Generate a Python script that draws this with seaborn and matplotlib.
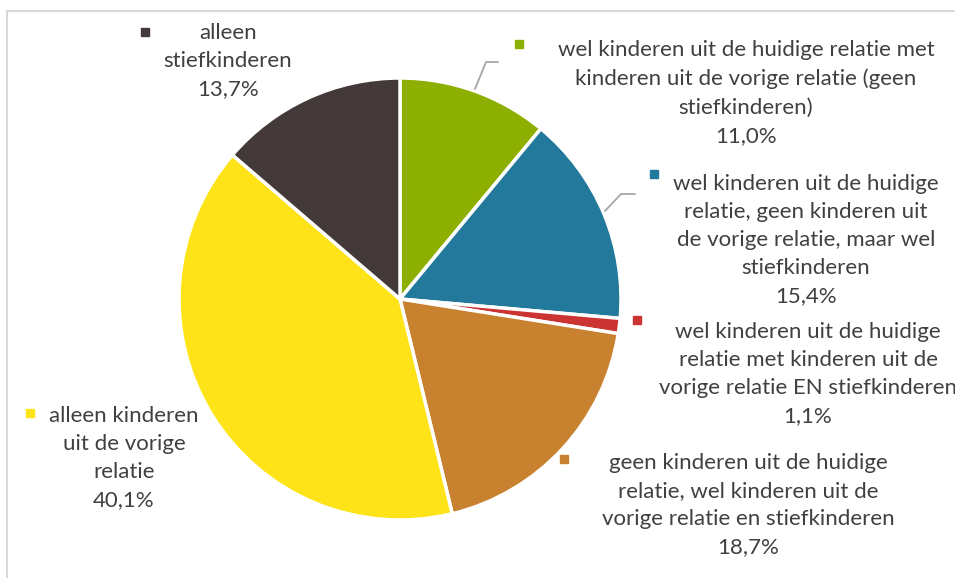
import matplotlib
matplotlib.use('Agg')
import matplotlib.pyplot as plt
import seaborn as sns
from matplotlib.lines import Line2D

# Data
labels = [
    'wel kinderen uit de huidige relatie met\nkinderen uit de vorige relatie (geen\nstiefkinderen)',
    'wel kinderen uit de huidige\nrelatie, geen kinderen uit\nde vorige relatie, maar wel\nstiefkinderen',
    'wel kinderen uit de huidige\nrelatie met kinderen uit de\nvorige relatie EN stiefkinderen',
    'geen kinderen uit de huidige\nrelatie, wel kinderen uit de\nvorige relatie en stiefkinderen',
    'alleen kinderen\nuit de vorige\nrelatie',
    'alleen\nstiefkinderen',
]
shares = [11.0, 15.4, 1.1, 18.7, 40.1, 13.7]
colors = ['#8DAF00', '#22799C', '#CC3333', '#C8812F', '#FDE317', '#433938']

# label layout in pixels: text centre x, text block centre y, marker x, marker y
label_pos = [
    (746, 93, 519, 44),
    (806, 240, 654, 174),
    (808, 374, 637, 320),
    (748, 505, 564, 459),
    (124, 458, 30, 413),
    (228, 61, 145, 32),
]

W, H = 955, 578
sns.set_theme(style='white')
plt.rcParams['font.family'] = ['Lato', 'DejaVu Sans']

fig = plt.figure(figsize=(W / 100, H / 100), dpi=100)
fig.patch.set_facecolor('white')

def px(x, y):
    return x / W, 1 - y / H

# chart border (clipped on right/bottom)
fig.add_artist(Line2D([7 / W, 7 / W], [0, 1 - 11 / H], color='#D9D9D9', lw=1.5,
                      transform=fig.transFigure))
fig.add_artist(Line2D([7 / W, 1], [1 - 11 / H, 1 - 11 / H], color='#D9D9D9', lw=1.5,
                      transform=fig.transFigure))

ax = fig.add_axes([179 / W, 58 / H, 442 / W, 442 / H])
ax.pie(shares, colors=colors, startangle=90, counterclock=False,
       wedgeprops=dict(edgecolor='white', linewidth=2.5))
ax.set_xlim(-1, 1)
ax.set_ylim(-1, 1)
ax.set_aspect('equal')
ax.axis('off')

for lab, val, c, (tx, ty, mx, my) in zip(labels, shares, colors, label_pos):
    txt = lab + '\n' + f'{val:.1f}%'.replace('.', ',')
    fig.text(*px(tx, ty), txt, ha='center', va='center', fontsize=16,
             color='#404040', linespacing=1.51)
    fig.add_artist(Line2D([mx / W], [1 - my / H], marker='s', ms=6, color=c,
                          lw=0, transform=fig.transFigure))

# leader lines
leaders = [
    [(475, 89), (486, 62), (498, 62)],
    [(605, 211), (621, 194), (635, 194)],
]
for pts in leaders:
    xs = [p[0] / W for p in pts]
    ys = [1 - p[1] / H for p in pts]
    fig.add_artist(Line2D(xs, ys, color='#A6A6A6', lw=1.3, transform=fig.transFigure))

fig.savefig('out.png', dpi=100)
